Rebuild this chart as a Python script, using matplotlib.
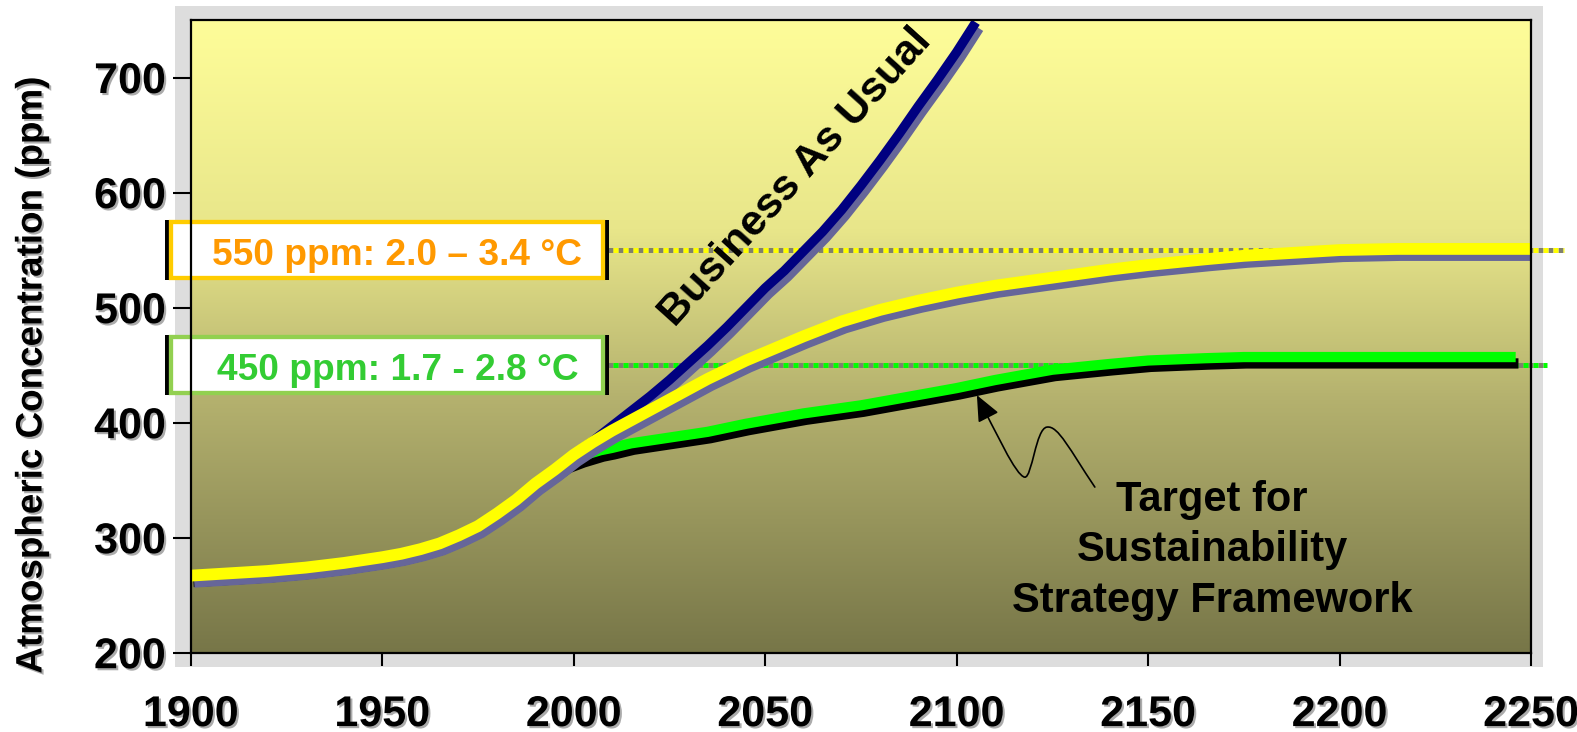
import numpy as np
import matplotlib
matplotlib.use("Agg")
import matplotlib.pyplot as plt
import matplotlib.patheffects as pe
from matplotlib.colors import LinearSegmentedColormap
from matplotlib.patches import Rectangle, FancyArrowPatch, ArrowStyle
from matplotlib.path import Path

plt.rcParams["font.family"] = ["Liberation Sans", "DejaVu Sans"]
plt.rcParams["font.weight"] = "bold"

# observed record, shared by every scenario
hist_years = [1900, 1910, 1920, 1930, 1940, 1950, 1955, 1960, 1965, 1970, 1975,
              1980, 1985, 1990, 1995, 2000]
hist_ppm = [267, 269, 271, 274, 278, 283, 286, 290, 295, 302, 310,
            321, 333, 347, 359, 372]

# business as usual
bau_years = [2005, 2010, 2015, 2020, 2025, 2030, 2035, 2040, 2045, 2050, 2055, 2060,
             2065, 2070, 2075, 2080, 2085, 2090, 2095, 2100, 2105]
bau_ppm = [384, 397, 410, 423, 437, 452, 467, 483, 500, 517, 532, 549,
           566, 585, 606, 628, 651, 675, 698, 722, 748]

# stabilisation at 550 ppm
s550_years = [2005, 2010, 2015, 2020, 2025, 2030, 2035, 2040, 2045, 2050, 2060, 2070,
              2080, 2090, 2100, 2110, 2125, 2140, 2150, 2165, 2175, 2190, 2200, 2215, 2250]
s550_ppm = [383, 393, 402, 411, 420, 429, 438, 446, 454, 461, 475, 488,
            498, 506, 513, 519, 526, 533, 537, 542, 545, 548, 550, 551, 551]

# stabilisation at 450 ppm (sustainability target)
s450_years = [1998, 2002, 2004, 2007, 2010, 2015, 2025, 2035, 2045, 2060, 2075, 2090,
              2100, 2110, 2125, 2140, 2150, 2165, 2175, 2200, 2246]
s450_ppm = [366, 371, 373, 376, 378, 382, 387, 392, 399, 408, 415, 424,
            430, 437, 446, 451, 454, 456, 457, 457, 457]

yticks = [200, 300, 400, 500, 600, 700]
xticks = [1900, 1950, 2000, 2050, 2100, 2150, 2200, 2250]

levels = [550, 450]
level_text = ["550 ppm: 2.0 \u2013 3.4 \u00b0C", "450 ppm: 1.7 - 2.8 \u00b0C"]


fig = plt.figure(figsize=(15.77, 7.32), dpi=100)
fig.patch.set_facecolor("white")

# light grey chart frame
frame = Rectangle((175 / 1577, 1 - 666.7 / 732), (1543 - 175) / 1577, (666.7 - 6) / 732,
                  transform=fig.transFigure, facecolor="#dddddd", edgecolor="none", zorder=-5)
fig.patches.append(frame)

ax = fig.add_axes([190.7 / 1577, 1 - 652.7 / 732, (1531 - 190.7) / 1577, (652.7 - 20) / 732])
ax.set_zorder(1)
ax.set_xlim(1900, 2250)
ax.set_ylim(200, 750)

# vertical background gradient
grad = LinearSegmentedColormap.from_list("bg", [
    (0.0, (119 / 255, 118 / 255, 72 / 255)),
    (0.40, (180 / 255, 177 / 255, 110 / 255)),
    (0.67, (232 / 255, 230 / 255, 138 / 255)),
    (1.0, (254 / 255, 253 / 255, 153 / 255)),
])
ax.imshow(np.linspace(0, 1, 256).reshape(-1, 1), cmap=grad, origin="lower",
          extent=[1900, 2250, 200, 750], aspect="auto", zorder=0)


def shadow(c, dx=2.5, dy=-4.4):
    return [pe.SimpleLineShadow(offset=(dx, dy), shadow_color=c, alpha=1.0), pe.Normal()]


# reference levels (dotted, with a grey shadow)
dot_ends = [2258.5, 2254.3]
dot_cols = ["#ffff00", "#00ff00"]
for lvl, xe, col in zip(levels, dot_ends, dot_cols):
    ax.plot([2005, xe], [lvl, lvl], color="#80806e", lw=3.6, ls=(1, (1, 1)),
            dash_capstyle="butt", clip_on=False, zorder=2)
    ax.plot([2005, xe], [lvl, lvl], color=col, lw=3.6, ls=(0, (1, 1)),
            dash_capstyle="butt", clip_on=False, zorder=2)

ax.plot(hist_years + bau_years, hist_ppm + bau_ppm, color="#000080", lw=6.8,
        solid_capstyle="butt", solid_joinstyle="round",
        path_effects=shadow("#666699"), zorder=3)
ax.plot(hist_years[:-2] + s450_years, hist_ppm[:-2] + s450_ppm, color="#00ff00", lw=7.4,
        solid_capstyle="butt", solid_joinstyle="round",
        path_effects=shadow("black", 2, -4.6), zorder=4)
ax.plot(hist_years + s550_years, hist_ppm + s550_ppm, color="#ffff00", lw=8.5,
        solid_capstyle="butt", solid_joinstyle="round",
        path_effects=shadow("#666699"), zorder=5)

# boxed level labels
box_edges = ["#ffcc00", "#92d050"]
box_text = ["#ff9900", "#33cc33"]
for lvl, txt, ec, tc in zip(levels, level_text, box_edges, box_text):
    ax.add_patch(Rectangle((1893.3, lvl - 26.4), 115.9, 52.8, facecolor="black",
                           edgecolor="none", clip_on=False, zorder=6))
    ax.add_patch(Rectangle((1894.9, lvl - 24.1), 112.8, 48.2, facecolor="white",
                           edgecolor=ec, lw=3.1, clip_on=False, zorder=7))
    ax.text(1954, lvl - 13, txt, color=tc, fontsize=26.7, fontweight="bold",
            ha="center", va="baseline", zorder=8, clip_on=False)

ax.text(2058, 613, "Business As Usual", fontsize=31, fontweight="bold", rotation=48,
        rotation_mode="anchor", ha="center", va="center", zorder=8)

ax.text(2166.7, 289, "Target for\nSustainability\nStrategy Framework", fontsize=30,
        fontweight="bold", ha="center", va="center", multialignment="center",
        linespacing=1.33, zorder=8)

# wavy pointer from the caption to the target curve
verts = [(2136.1, 344.0), (2129.6, 376.1), (2126.5, 397.8), (2123.6, 396.1),
         (2120.7, 395.2), (2119.7, 351.8), (2117.8, 352.6),
         (2115.5, 353.5), (2110.0, 393.5), (2105.3, 423.9)]
codes = [Path.MOVETO] + [Path.CURVE4] * 9
arrow = FancyArrowPatch(path=Path(verts, codes),
                        arrowstyle=ArrowStyle("-|>", head_length=0.8, head_width=0.35),
                        mutation_scale=20, lw=1.2, color="black", shrinkA=0, shrinkB=0, zorder=8)
ax.add_patch(arrow)

# axes styling
for s in ax.spines.values():
    s.set_linewidth(1.6)
    s.set_color("black")
    s.set_zorder(9)
ax.set_xticks(xticks)
ax.set_yticks(yticks)
ax.tick_params(axis="y", direction="out", length=13, width=1.5, pad=5, labelsize=31)
ax.tick_params(axis="x", direction="out", length=9.5, width=1.5, pad=21, labelsize=31)
lbl_fx = [pe.withSimplePatchShadow(offset=(1.5, -1.5), shadow_rgbFace="#888888", alpha=0.7)]
for t in ax.xaxis.get_major_ticks() + ax.yaxis.get_major_ticks():
    t.label1.set_fontweight("bold")
    t.label1.set_path_effects(lbl_fx)

fig.text(32 / 1577, 1 - 375.7 / 732, "Atmospheric Concentration (ppm)", rotation=90,
         fontsize=26.5, fontweight="bold", ha="center", va="center", path_effects=lbl_fx)

fig.savefig("out.png", dpi=100)
